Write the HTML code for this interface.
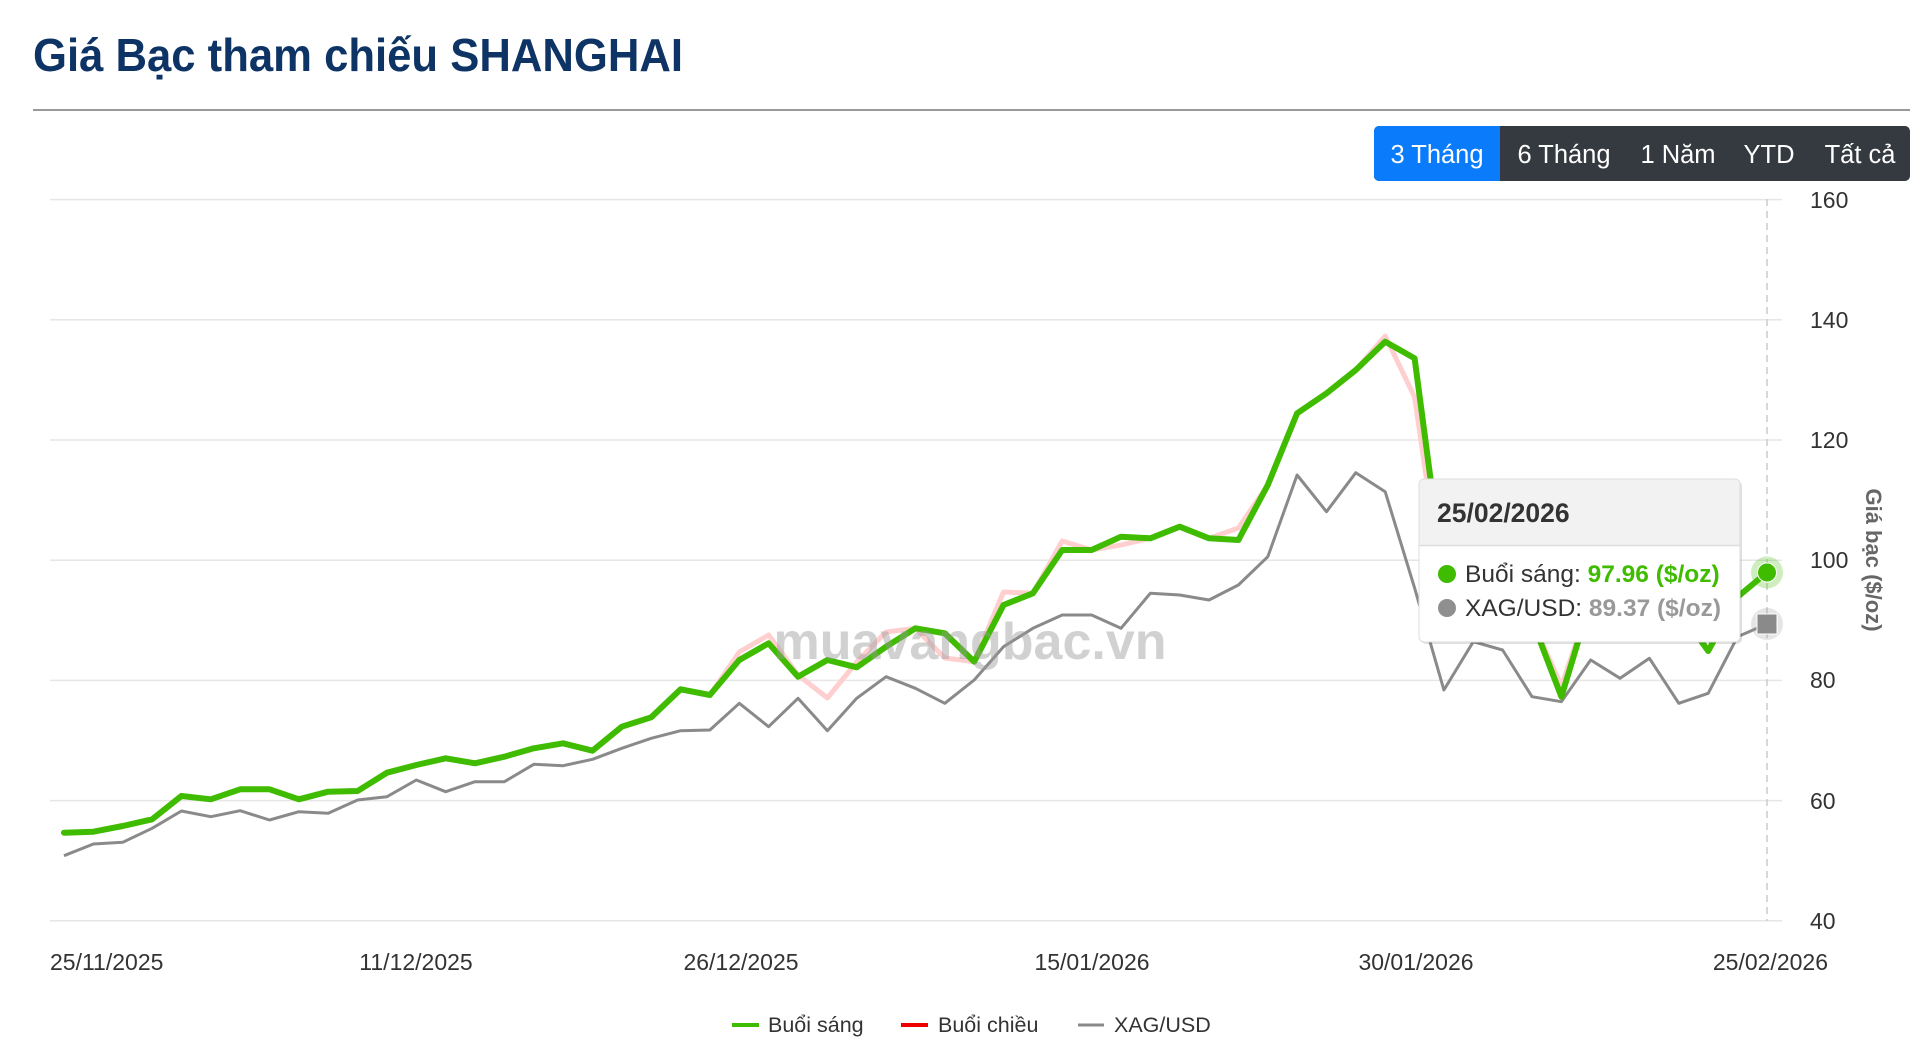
<!DOCTYPE html>
<html><head><meta charset="utf-8"><style>
html,body{margin:0;padding:0;background:#fff;width:1920px;height:1057px;overflow:hidden}
svg{display:block;font-family:"Liberation Sans",sans-serif}
</style></head><body>
<svg width="1920" height="1057" viewBox="0 0 1920 1057" xmlns="http://www.w3.org/2000/svg">
<text x="33" y="71" font-size="46" font-weight="bold" fill="#0e3466" textLength="650" lengthAdjust="spacingAndGlyphs">Giá Bạc tham chiếu SHANGHAI</text>
<rect x="33" y="109" width="1877" height="2" fill="#9a9a9a"/>
<rect x="1374" y="126" width="536" height="55" rx="5" fill="#343a40"/>
<path d="M1379 126 H1500 V181 H1379 A5 5 0 0 1 1374 176 V131 A5 5 0 0 1 1379 126Z" fill="#0a7bfb"/>
<g font-size="25.5" fill="#fff" text-anchor="middle">
<text x="1437" y="163">3 Tháng</text><text x="1564" y="163">6 Tháng</text><text x="1678" y="163">1 Năm</text><text x="1769" y="163">YTD</text><text x="1860" y="163">Tất cả</text>
</g>
<g stroke="#e6e6e6" stroke-width="1.5">
<line x1="50" x2="1782" y1="199.6" y2="199.6"/><line x1="50" x2="1782" y1="319.8" y2="319.8"/><line x1="50" x2="1782" y1="440" y2="440"/><line x1="50" x2="1782" y1="560.2" y2="560.2"/><line x1="50" x2="1782" y1="680.4" y2="680.4"/><line x1="50" x2="1782" y1="800.6" y2="800.6"/><line x1="50" x2="1782" y1="920.8" y2="920.8"/>
</g>
<line x1="1767" x2="1767" y1="199" y2="921" stroke="#ccc" stroke-width="1.5" stroke-dasharray="7,5"/>
<g font-size="23" fill="#333">
<text x="1810" y="208">160</text><text x="1810" y="328">140</text><text x="1810" y="448">120</text><text x="1810" y="568">100</text><text x="1810" y="688">80</text><text x="1810" y="809">60</text><text x="1810" y="929">40</text>
<text x="50" y="970">25/11/2025</text><text x="416" y="970" text-anchor="middle">11/12/2025</text><text x="741" y="970" text-anchor="middle">26/12/2025</text><text x="1092" y="970" text-anchor="middle">15/01/2026</text><text x="1416" y="970" text-anchor="middle">30/01/2026</text><text x="1828" y="970" text-anchor="end">25/02/2026</text>
</g>
<text transform="translate(1866,560) rotate(90)" font-size="22" font-weight="bold" fill="#666" text-anchor="middle">Giá bạc ($/oz)</text>
<polyline id="red" fill="none" stroke="#ffcfcf" stroke-width="5" stroke-linejoin="round"/>
<polyline id="grey" fill="none" stroke="#8a8a8a" stroke-width="3" stroke-linejoin="round"/>
<polyline id="green" fill="none" stroke="#3fbb00" stroke-width="6" stroke-linejoin="round" stroke-linecap="round"/>
<text x="970" y="659" font-size="52" font-weight="bold" fill="#999" fill-opacity="0.45" text-anchor="middle">muavangbac.vn</text>
<circle cx="1767" cy="572.5" r="16" fill="#3fbb00" fill-opacity="0.25"/>
<circle cx="1767" cy="572.5" r="9.5" fill="#3fbb00" stroke="#fff" stroke-width="1"/>
<circle cx="1767" cy="624" r="16" fill="#999" fill-opacity="0.25"/>
<rect x="1757" y="614" width="20" height="20" fill="#8a8a8a" stroke="#fff" stroke-width="1"/>
<g>
<rect x="1421" y="481" width="321" height="163" rx="5" fill="#000" fill-opacity="0.12"/>
<rect x="1419" y="479" width="321" height="163" rx="5" fill="#fff" stroke="#ddd"/>
<path d="M1424 479.5 H1735 A5 5 0 0 1 1739.5 484 V545.5 H1419.5 V484 A5 5 0 0 1 1424 479.5Z" fill="#f2f2f2"/>
<line x1="1419.5" x2="1739.5" y1="545.5" y2="545.5" stroke="#ddd" stroke-width="1.5"/>
<text x="1437" y="522" font-size="26.5" font-weight="bold" fill="#333">25/02/2026</text>
<circle cx="1447" cy="574" r="9" fill="#3fbb00"/>
<circle cx="1447" cy="608" r="9" fill="#8f8f8f"/>
<text x="1465" y="582" font-size="24.5" fill="#333">Buổi sáng: <tspan font-weight="bold" fill="#3fbb00">97.96 ($/oz)</tspan></text>
<text x="1465" y="616" font-size="24.5" fill="#333">XAG/USD: <tspan font-weight="bold" fill="#999">89.37 ($/oz)</tspan></text>
</g>
<g font-size="21.5" fill="#333">
<line x1="732" x2="759" y1="1025" y2="1025" stroke="#3fbb00" stroke-width="4"/><text x="768" y="1032">Buổi sáng</text>
<line x1="901" x2="928" y1="1025" y2="1025" stroke="#ee0000" stroke-width="4"/><text x="938" y="1032">Buổi chiều</text>
<line x1="1078" x2="1104" y1="1025" y2="1025" stroke="#8a8a8a" stroke-width="3"/><text x="1114" y="1032">XAG/USD</text>
</g>
</svg>
<script>
var g=[832.7,831.7,826,819.3,796,799.3,789.3,789.3,799.3,791.7,791,772.7,765,758.3,763.3,756.7,748.3,743.3,750.7,726.7,717.3,689.3,695,660,643.3,676.7,660,667.3,646.7,628.3,633.3,661.7,605,593.3,550,550,536.7,538.3,526.7,538.3,540,485,413.3,393.3,370,341.7,358.3,580,600,610,620,696.7,600,590,600,610,651,597,572.5];
var k=[855.7,844,842.3,828.3,811,816.7,810.7,820,811.7,813.3,800,796.7,780,791.7,781.7,781.7,764.3,765.7,759.3,748.3,738.3,730.7,730,703.3,726.7,698.3,730.7,698.3,676.7,688.3,703.3,680,646.7,628.3,615,615,628.3,593.3,595,600,585,556.7,475,511.7,472.7,491.7,588,690,641.7,650,696.7,701.7,660,678.3,658.3,703.3,693.3,636.7,624];
var r=g.slice();var m={23:652,24:635,25:675,26:698,27:662,28:632,30:658,32:592,34:541,36:545,40:528,45:336,46:397,47:600,51:686};
for(var i in m)r[i]=m[i];
function pts(a){return a.map(function(y,i){return (64+i*29.36).toFixed(1)+','+y}).join(' ')}
document.getElementById('green').setAttribute('points',pts(g));
document.getElementById('grey').setAttribute('points',pts(k));
document.getElementById('red').setAttribute('points',pts(r));
</script>
</body></html>
